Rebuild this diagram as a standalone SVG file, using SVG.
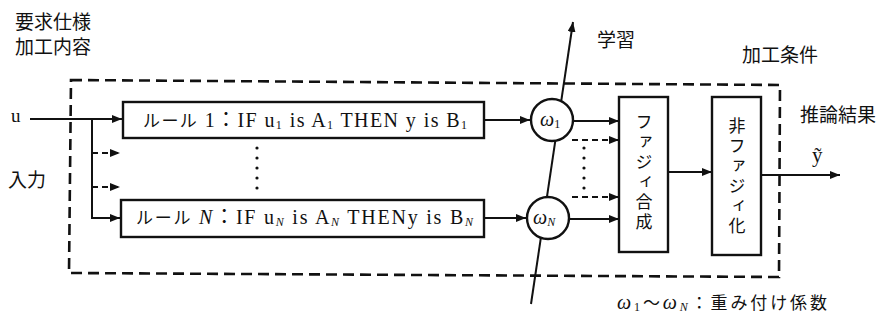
<svg xmlns="http://www.w3.org/2000/svg" width="883" height="322" viewBox="0 0 883 322">
  <style>
    .box { fill: #fff; stroke: #111; stroke-width: 2.4; }
    .ln { fill: none; stroke: #111; stroke-width: 2; }
    .dl { fill: none; stroke: #111; stroke-width: 2; stroke-dasharray: 6 4; }
    .frame { fill: none; stroke: #111; stroke-width: 2.6; stroke-dasharray: 11 6; }
    .jp { font-family: "Noto Sans CJK JP", "Liberation Serif", serif; font-size: 19px; fill: #111; }
    .vt { font-family: "Noto Sans CJK JP", sans-serif; font-size: 17px; fill: #111; writing-mode: vertical-rl; letter-spacing: 3px; }
    .rule { font-family: "Liberation Serif", "Noto Sans CJK JP", serif; font-size: 20px; fill: #111; }
    .kana { font-family: "Noto Sans CJK JP", sans-serif; font-size: 17px; fill: #111; }
    .sym { font-family: "Liberation Serif", serif; fill: #111; }
    .dot { fill: #111; }
  </style>
  <defs>
    <marker id="arr" viewBox="0 0 10 8" refX="10" refY="4" markerWidth="10" markerHeight="8" markerUnits="userSpaceOnUse" orient="auto">
      <path d="M0,0 L10,4 L0,8 Z" fill="#111"/>
    </marker>
  </defs>

  <rect width="883" height="322" fill="#fff"/>

  <!-- system boundary -->
  <polygon class="frame" points="71,80 780,85 779,277 69,273"/>

  <!-- connectors -->
  <g id="connectors">
    <path class="ln" d="M30,119 L122,119" marker-end="url(#arr)"/>
    <path class="ln" d="M92,119 L92,218 L120,218" marker-end="url(#arr)"/>
    <path class="dl" d="M92,153 L120,153" marker-end="url(#arr)"/>
    <path class="dl" d="M92,187 L120,187" marker-end="url(#arr)"/>
    <path class="ln" d="M484,120 L530,120" marker-end="url(#arr)"/>
    <path class="ln" d="M484,218 L526,218" marker-end="url(#arr)"/>
    <path class="ln" d="M531,304 L573,22" marker-end="url(#arr)"/>
    <path class="ln" d="M574,121 L619,121" marker-end="url(#arr)"/>
    <path class="dl" d="M572,140 L619,140" marker-end="url(#arr)"/>
    <path class="dl" d="M572,197 L619,197" marker-end="url(#arr)"/>
    <path class="ln" d="M570,219 L619,219" marker-end="url(#arr)"/>
    <path class="ln" d="M668,172 L712,172" marker-end="url(#arr)"/>
    <path class="ln" d="M761,175 L840,175" marker-end="url(#arr)"/>
    <!-- ellipsis dots -->
    <g class="dot">
      <circle cx="257" cy="148" r="1.6"/><circle cx="257" cy="158" r="1.6"/><circle cx="257" cy="168" r="1.6"/><circle cx="257" cy="178" r="1.6"/><circle cx="257" cy="188" r="1.6"/>
      <circle cx="584" cy="148" r="1.6"/><circle cx="584" cy="158" r="1.6"/><circle cx="584" cy="168" r="1.6"/><circle cx="584" cy="178" r="1.6"/><circle cx="584" cy="188" r="1.6"/>
    </g>
  </g>

  <!-- labels -->
  <text class="jp" x="15" y="29">要求仕様</text>
  <text class="jp" x="15" y="54">加工内容</text>
  <text class="sym" x="11" y="122" font-size="19">u</text>
  <text class="jp" x="8" y="187">入力</text>
  <text class="jp" x="597" y="47" font-size="18">学習</text>
  <text class="jp" x="742" y="62">加工条件</text>
  <text class="jp" x="800" y="122">推論結果</text>
  <text class="sym" x="812" y="162" font-size="21">ỹ</text>

  <!-- rule 1 -->
  <g id="rule1">
    <rect class="box" x="123" y="102" width="361" height="36"/>
    <text class="rule" x="143" y="127" textLength="324" lengthAdjust="spacing"><tspan class="kana">ルール</tspan> 1：IF u<tspan font-size="12" dy="2">1</tspan><tspan dy="-2"> is A</tspan><tspan font-size="12" dy="2">1</tspan><tspan dy="-2"> THEN y  is B</tspan><tspan font-size="12" dy="2">1</tspan></text>
  </g>

  <!-- rule N -->
  <g id="ruleN">
    <rect class="box" x="121" y="200" width="363" height="37"/>
    <text class="rule" x="136" y="224" textLength="337" lengthAdjust="spacing"><tspan class="kana">ルール</tspan> <tspan font-style="italic">N</tspan>：IF u<tspan font-size="12" font-style="italic" dy="2">N</tspan><tspan dy="-2"> is A</tspan><tspan font-size="12" font-style="italic" dy="2">N</tspan><tspan dy="-2"> THENy  is B</tspan><tspan font-size="12" font-style="italic" dy="2">N</tspan></text>
  </g>

  <!-- weights -->
  <g id="w1">
    <circle class="box" cx="552" cy="120" r="21"/>
    <text class="sym" x="540" y="126" font-size="20" font-style="italic">ω<tspan font-size="12" font-style="normal" dy="2">1</tspan></text>
  </g>
  <g id="wN">
    <circle class="box" cx="548" cy="218" r="21"/>
    <text class="sym" x="533" y="224" font-size="20" font-style="italic">ω<tspan font-size="12" dy="2">N</tspan></text>
  </g>

  <!-- fuzzy composition -->
  <g id="fuzzy-composition">
    <rect class="box" x="619" y="97" width="49" height="155"/>
    <text class="vt" x="644" y="113">ファジィ合成</text>
  </g>

  <!-- defuzzification -->
  <g id="defuzzification">
    <rect class="box" x="712" y="97" width="49" height="158"/>
    <text class="vt" x="737" y="117">非ファジィ化</text>
  </g>

  <!-- legend -->
  <text class="sym" x="617" y="309" font-size="20" textLength="210" lengthAdjust="spacing"><tspan font-style="italic">ω</tspan><tspan font-size="12" dy="2">1</tspan><tspan dy="-2" class="kana" font-size="19">〜</tspan><tspan font-style="italic">ω</tspan><tspan font-size="12" font-style="italic" dy="2">N</tspan><tspan dy="-2" class="kana" font-size="19">：重み付け係数</tspan></text>
</svg>
